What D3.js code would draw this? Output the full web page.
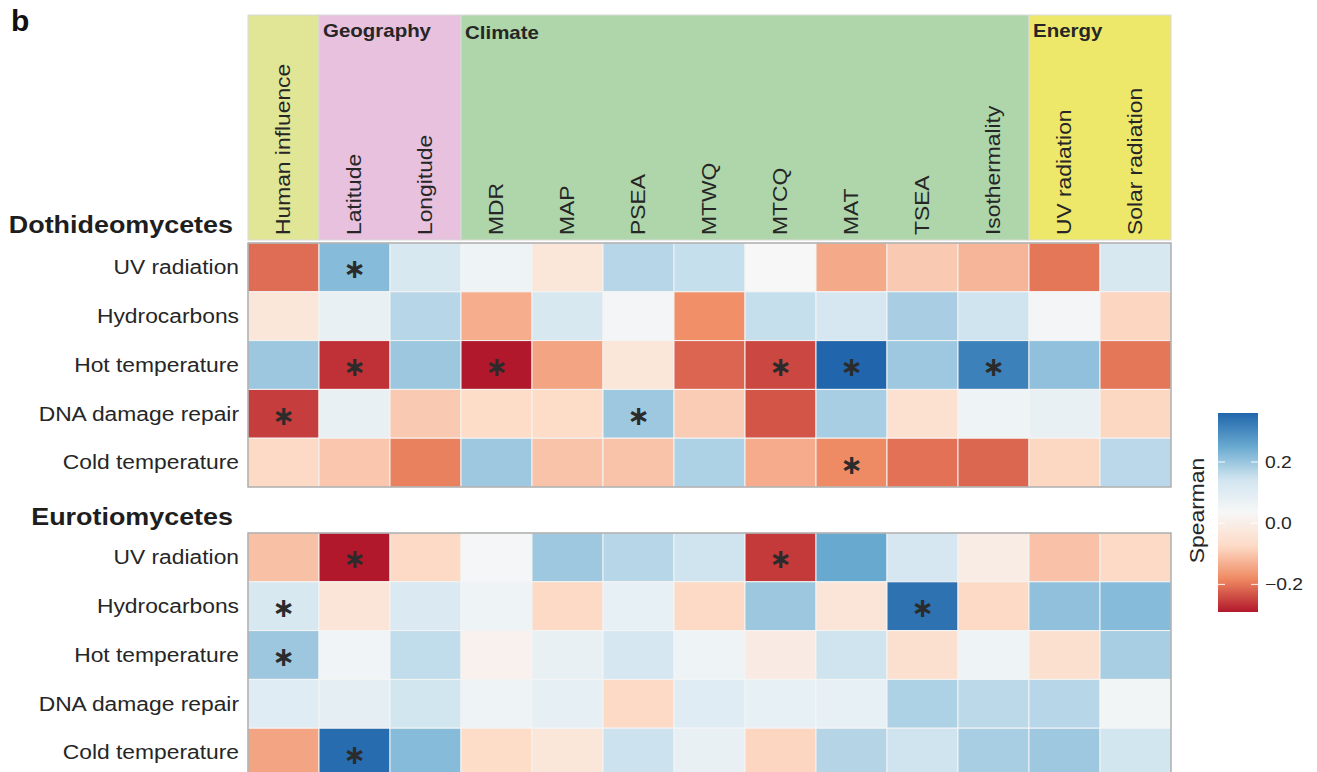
<!DOCTYPE html>
<html>
<head>
<meta charset="utf-8">
<script src="https://cdn.jsdelivr.net/npm/d3@7"></script>
<style>
  html, body { margin: 0; padding: 0; background: #ffffff; }
  svg { display: block; }
  text { font-family: "Liberation Sans", Arial, Helvetica, sans-serif; fill: #262626; }
  text.sig { font-family: "DejaVu Sans", sans-serif; font-weight: bold; fill: #2b2b2b; }
</style>
</head>
<body>
<svg id="chart" width="1317" height="772"></svg>
<script>
// ---- data -------------------------------------------------------------
const predictors = ["Human influence", "Latitude", "Longitude", "MDR", "MAP", "PSEA",
  "MTWQ", "MTCQ", "MAT", "TSEA", "Isothermality", "UV radiation", "Solar radiation"];

// predictor groups shown in the header band (label, number of columns)
const groupNames = ["", "Geography", "Climate", "Energy"];
const groupSizes = [1, 2, 8, 2];

const traits = ["UV radiation", "Hydrocarbons", "Hot temperature", "DNA damage repair", "Cold temperature"];

const classNames = ["Dothideomycetes", "Eurotiomycetes"];

// Spearman correlations, one row per trait, one value per predictor
const dothideomycetes = [
  [-0.21, 0.22, 0.125, 0.06, -0.03, 0.17, 0.155, 0.035, -0.14, -0.097, -0.124, -0.2, 0.125],
  [-0.03, 0.075, 0.17, -0.135, 0.125, 0.045, -0.175, 0.155, 0.13, 0.184, 0.145, 0.045, -0.08],
  [0.198, -0.267, 0.198, -0.29, -0.147, -0.03, -0.217, -0.245, 0.36, 0.195, 0.317, 0.21, -0.2],
  [-0.255, 0.075, -0.097, -0.07, -0.07, 0.196, -0.093, -0.232, 0.185, -0.054, 0.06, 0.075, -0.078],
  [-0.075, -0.1, -0.19, 0.196, -0.105, -0.105, 0.18, -0.137, -0.18, -0.205, -0.215, -0.078, 0.167]
];
const eurotiomycetes = [
  [-0.11, -0.29, -0.075, 0.04, 0.196, 0.17, 0.145, -0.258, 0.252, 0.13, -0.006, -0.108, -0.075],
  [0.125, -0.035, 0.115, 0.06, -0.075, 0.08, -0.075, 0.198, -0.035, 0.34, -0.075, 0.21, 0.22],
  [0.198, 0.055, 0.16, 0.012, 0.075, 0.13, 0.06, -0.01, 0.145, -0.055, 0.06, -0.055, 0.185],
  [0.1, 0.09, 0.14, 0.06, 0.085, -0.075, 0.1, 0.08, 0.08, 0.18, 0.165, 0.17, 0.05],
  [-0.147, 0.35, 0.22, -0.07, -0.03, 0.148, 0.075, -0.08, 0.172, 0.145, 0.185, 0.196, 0.14]
];

// significant correlations as [trait index, predictor index]
const dothideomycetesSig = [[0, 1], [2, 1], [2, 3], [2, 7], [2, 8], [2, 10], [3, 0], [3, 5], [4, 8]];
const eurotiomycetesSig = [[0, 1], [0, 7], [1, 0], [1, 9], [2, 0], [4, 1]];

const legendTicks = [0.2, 0.0, -0.2];

// ---- styles & layout --------------------------------------------------
const palette = ["#b2182b", "#ef8a62", "#fddbc7", "#f7f7f7", "#d1e5f0", "#67a9cf", "#2166ac"];
const groupColors = ["#e1e596", "#e7c1dd", "#aed6aa", "#eee86a"];
const stretch = 1.17;                 // horizontal glyph stretch of the figure's type
const fontMain = 19.5;
const left = 248, right = 1171;
const headerTop = 15, headerBottom = 240;
const blockTops = [243, 533];
const rowH = 48.8;

const svg = d3.select("#chart");

const x = d3.scaleBand().domain(predictors).range([left, right]);

const allValues = dothideomycetes.concat(eurotiomycetes).flat();
const [vMin, vMax] = d3.extent(allValues);
const color = d3.scaleLinear()
  .domain(d3.range(palette.length).map(i => vMin + (vMax - vMin) * i / (palette.length - 1)))
  .range(palette)
  .interpolate(d3.interpolateRgb);

// helper for horizontally stretched text
function label(g, str, px, py, opts = {}) {
  const rot = opts.rotate ? " rotate(-90)" : "";
  return g.append("text")
    .attr("transform", `translate(${px},${py})${rot} scale(${opts.sx ?? stretch},1)`)
    .attr("text-anchor", opts.anchor || "start")
    .attr("dy", opts.dy || null)
    .style("font-size", (opts.size || fontMain) + "px")
    .style("font-weight", opts.bold ? "bold" : null)
    .text(str);
}

// ---- panel letter -----------------------------------------------------
label(svg, "b", 11, 31, { size: 30, bold: true, sx: 1 }).style("fill", "#111");

// ---- header bands -----------------------------------------------------
const header = svg.append("g");
const groupStarts = groupSizes.map((s, i) => d3.sum(groupSizes.slice(0, i)));
groupNames.forEach((name, i) => {
  const x0 = x(predictors[groupStarts[i]]);
  const x1 = x(predictors[groupStarts[i] + groupSizes[i] - 1]) + x.bandwidth();
  header.append("rect")
    .attr("x", x0).attr("y", headerTop)
    .attr("width", x1 - x0).attr("height", headerBottom - headerTop)
    .attr("fill", groupColors[i])
    .attr("stroke", "#d9d9d9").attr("stroke-width", 1);
  if (name) label(header, name, x0 + 4, headerTop + 22 + (name === "Climate" ? 2 : 0), { size: 17.5, bold: true });
});
predictors.forEach(p => {
  label(header, p, x(p) + x.bandwidth() / 2, headerBottom - 5, { rotate: true, dy: "0.35em" });
});

// ---- heatmap blocks ---------------------------------------------------
[dothideomycetes, eurotiomycetes].forEach((matrix, b) => {
  const top = blockTops[b];
  const y = d3.scaleBand().domain(traits).range([top, top + rowH * traits.length]);
  const g = svg.append("g");

  const cells = matrix.flatMap((row, r) => row.map((v, c) => ({ r, c, v })));
  g.selectAll("rect.cell").data(cells).join("rect")
    .attr("class", "cell")
    .attr("x", d => x(predictors[d.c]))
    .attr("y", d => y(traits[d.r]))
    .attr("width", x.bandwidth())
    .attr("height", y.bandwidth())
    .attr("fill", d => color(d.v))
    .attr("stroke", "#f4f4f4").attr("stroke-width", 1);

  g.append("rect")
    .attr("x", left).attr("y", top)
    .attr("width", right - left).attr("height", rowH * traits.length)
    .attr("fill", "none").attr("stroke", "#a3a3a3").attr("stroke-width", 1.3);

  // significance markers (asterisk operator sits on the math axis, so it centres well)
  const sig = b === 0 ? dothideomycetesSig : eurotiomycetesSig;
  sig.forEach(([r, c]) => {
    g.append("text")
      .attr("class", "sig")
      .attr("x", x(predictors[c]) + x.bandwidth() / 2)
      .attr("y", y(traits[r]) + y.bandwidth() / 2 + 11)
      .attr("text-anchor", "middle")
      .style("font-size", "27px")
      .text("\u2217");
  });

  traits.forEach(t => {
    label(g, t, 239, y(t) + y.bandwidth() / 2, { anchor: "end", dy: "0.35em" });
  });

  label(g, classNames[b], 233, b === 0 ? 233 : 525, { anchor: "end", size: 23, bold: true })
    .style("fill", "#1e1e1e");
});

// ---- colour legend ----------------------------------------------------
const lgX = 1218, lgW = 40, lgTop = 413, lgBottom = 612;
const ly = d3.scaleLinear().domain([vMin, vMax]).range([lgBottom, lgTop]);
const defs = svg.append("defs");
const grad = defs.append("linearGradient").attr("id", "spearman-grad")
  .attr("x1", 0).attr("y1", 1).attr("x2", 0).attr("y2", 0);
d3.range(0, 1.0001, 0.02).forEach(t => {
  grad.append("stop").attr("offset", t).attr("stop-color", color(vMin + t * (vMax - vMin)));
});
const legend = svg.append("g");
legend.append("rect")
  .attr("x", lgX).attr("y", lgTop).attr("width", lgW).attr("height", lgBottom - lgTop)
  .attr("fill", "url(#spearman-grad)");
legendTicks.forEach(v => {
  [[lgX, lgX + 7], [lgX + lgW - 7, lgX + lgW]].forEach(([a, c]) => {
    legend.append("line")
      .attr("x1", a).attr("x2", c).attr("y1", ly(v)).attr("y2", ly(v))
      .attr("stroke", "#ffffff").attr("stroke-opacity", 0.8).attr("stroke-width", 1.2);
  });
  label(legend, d3.format(".1f")(v), lgX + lgW + 7, ly(v), { size: 16.5, dy: "0.35em" });
});
label(legend, "Spearman", 1197, (lgTop + lgBottom) / 2 - 2, { rotate: true, anchor: "middle", dy: "0.35em" });
</script>
</body>
</html>
